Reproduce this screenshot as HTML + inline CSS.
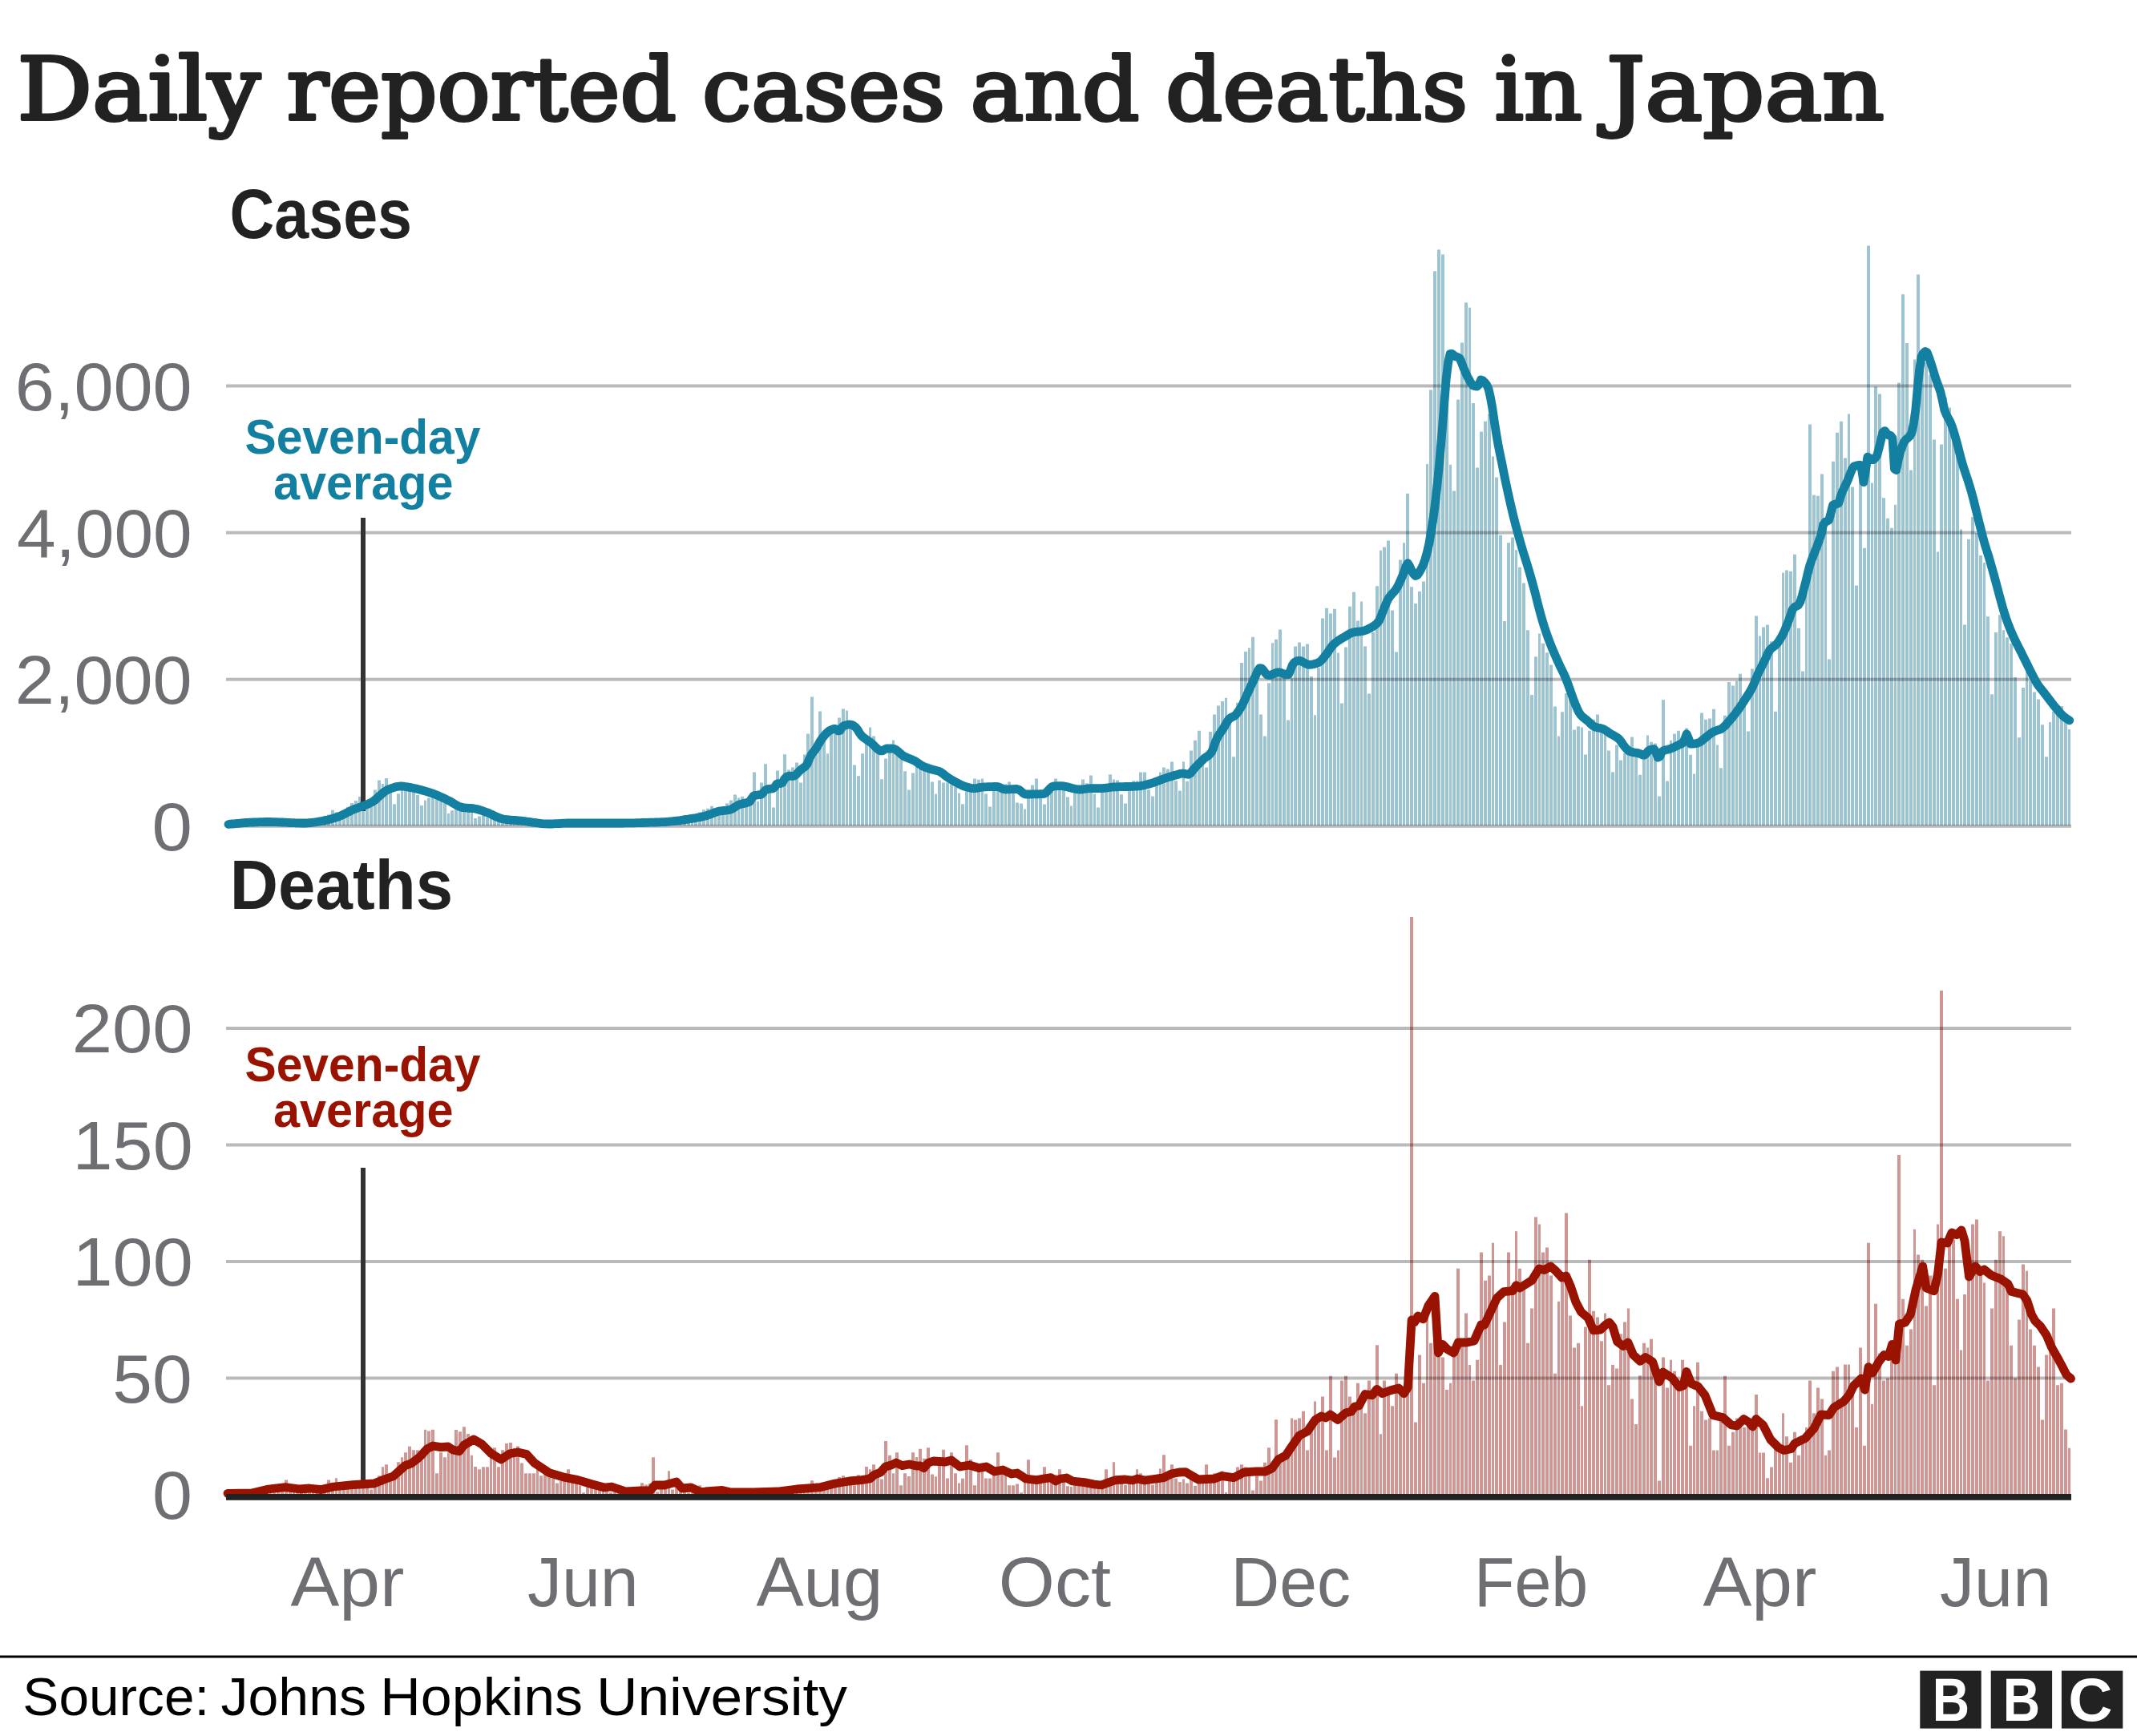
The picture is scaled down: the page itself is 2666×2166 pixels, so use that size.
<!DOCTYPE html>
<html lang="en"><head><meta charset="utf-8"><title>Daily reported cases and deaths in Japan</title>
<style>html,body{margin:0;padding:0;background:#fff}svg{display:block}</style></head>
<body>
<svg width="2666" height="2166" viewBox="0 0 2666 2166">
<rect width="2666" height="2166" fill="#fff"/>
<path d="M282 1030.0V1027.8H286V1030.0ZM287 1030.0V1028.6H291V1030.0ZM292 1030.0V1027.7H296V1030.0ZM297 1030.0V1026.6H301V1030.0ZM302 1030.0V1026.1H306V1030.0ZM307 1030.0V1025.6H310V1030.0ZM311 1030.0V1024.6H315V1030.0ZM316 1030.0V1025.7H320V1030.0ZM321 1030.0V1027.4H325V1030.0ZM326 1030.0V1026.5H330V1030.0ZM331 1030.0V1025.5H335V1030.0ZM336 1030.0V1025.3H339V1030.0ZM340 1030.0V1026.0H344V1030.0ZM345 1030.0V1025.2H349V1030.0ZM350 1030.0V1026.6H354V1030.0ZM355 1030.0V1028.2H359V1030.0ZM360 1030.0V1027.8H364V1030.0ZM365 1030.0V1027.1H368V1030.0ZM369 1030.0V1025.9H373V1030.0ZM374 1030.0V1025.0H378V1030.0ZM379 1030.0V1023.8H383V1030.0ZM384 1030.0V1024.7H388V1030.0ZM389 1030.0V1026.3H392V1030.0ZM393 1030.0V1024.0H397V1030.0ZM398 1030.0V1020.2H402V1030.0ZM403 1030.0V1017.7H407V1030.0ZM408 1030.0V1016.4H412V1030.0ZM413 1030.0V1010.7H417V1030.0ZM418 1030.0V1013.3H421V1030.0ZM422 1030.0V1017.7H426V1030.0ZM427 1030.0V1013.2H431V1030.0ZM432 1030.0V1006.8H436V1030.0ZM437 1030.0V1001.9H441V1030.0ZM442 1030.0V999.0H446V1030.0ZM447 1030.0V994.0H450V1030.0ZM451 1030.0V998.3H455V1030.0ZM456 1030.0V1008.7H460V1030.0ZM461 1030.0V998.8H465V1030.0ZM466 1030.0V985.5H470V1030.0ZM471 1030.0V973.4H475V1030.0ZM476 1030.0V978.1H479V1030.0ZM480 1030.0V971.1H484V1030.0ZM485 1030.0V981.5H489V1030.0ZM490 1030.0V1003.2H494V1030.0ZM495 1030.0V990.2H499V1030.0ZM500 1030.0V976.6H503V1030.0ZM504 1030.0V984.0H508V1030.0ZM509 1030.0V979.6H513V1030.0ZM514 1030.0V978.9H518V1030.0ZM519 1030.0V992.0H523V1030.0ZM524 1030.0V1004.9H528V1030.0ZM529 1030.0V998.6H532V1030.0ZM533 1030.0V995.6H537V1030.0ZM538 1030.0V989.5H542V1030.0ZM543 1030.0V992.1H547V1030.0ZM548 1030.0V993.2H552V1030.0ZM553 1030.0V1002.1H557V1030.0ZM558 1030.0V1015.1H561V1030.0ZM562 1030.0V1011.2H566V1030.0ZM567 1030.0V1008.7H571V1030.0ZM572 1030.0V1004.4H576V1030.0ZM577 1030.0V1006.9H581V1030.0ZM582 1030.0V1007.5H586V1030.0ZM587 1030.0V1014.2H590V1030.0ZM591 1030.0V1020.9H595V1030.0ZM596 1030.0V1018.6H600V1030.0ZM601 1030.0V1015.9H605V1030.0ZM606 1030.0V1019.6H610V1030.0ZM611 1030.0V1021.1H614V1030.0ZM615 1030.0V1020.5H619V1030.0ZM620 1030.0V1022.4H624V1030.0ZM625 1030.0V1026.0H629V1030.0ZM630 1030.0V1025.6H634V1030.0ZM635 1030.0V1024.9H639V1030.0ZM640 1030.0V1023.7H643V1030.0ZM644 1030.0V1024.7H648V1030.0ZM649 1030.0V1025.3H653V1030.0ZM654 1030.0V1026.3H658V1030.0ZM659 1030.0V1028.2H663V1030.0ZM664 1030.0V1028.0H668V1030.0ZM669 1030.0V1027.8H672V1030.0ZM673 1030.0V1027.3H677V1030.0ZM678 1030.0V1026.7H682V1030.0ZM683 1030.0V1026.6H687V1030.0ZM688 1030.0V1027.2H692V1030.0ZM693 1030.0V1028.4H697V1030.0ZM698 1030.0V1027.9H701V1030.0ZM702 1030.0V1026.5H706V1030.0ZM707 1030.0V1026.2H711V1030.0ZM712 1030.0V1026.3H716V1030.0ZM717 1030.0V1026.8H721V1030.0ZM722 1030.0V1027.3H725V1030.0ZM726 1030.0V1028.3H730V1030.0ZM731 1030.0V1028.0H735V1030.0ZM736 1030.0V1026.8H740V1030.0ZM741 1030.0V1026.2H745V1030.0ZM746 1030.0V1026.7H750V1030.0ZM751 1030.0V1025.8H754V1030.0ZM755 1030.0V1026.9H759V1030.0ZM760 1030.0V1028.3H764V1030.0ZM765 1030.0V1027.3H769V1030.0ZM770 1030.0V1026.1H774V1030.0ZM775 1030.0V1025.8H779V1030.0ZM780 1030.0V1025.3H783V1030.0ZM784 1030.0V1025.5H788V1030.0ZM789 1030.0V1026.3H793V1030.0ZM794 1030.0V1027.6H798V1030.0ZM799 1030.0V1026.6H803V1030.0ZM804 1030.0V1025.7H808V1030.0ZM809 1030.0V1024.5H812V1030.0ZM813 1030.0V1024.0H817V1030.0ZM818 1030.0V1023.8H822V1030.0ZM823 1030.0V1025.0H827V1030.0ZM828 1030.0V1026.4H832V1030.0ZM833 1030.0V1024.4H836V1030.0ZM837 1030.0V1022.3H841V1030.0ZM842 1030.0V1019.9H846V1030.0ZM847 1030.0V1020.3H851V1030.0ZM852 1030.0V1017.1H856V1030.0ZM857 1030.0V1020.5H861V1030.0ZM862 1030.0V1023.5H865V1030.0ZM866 1030.0V1018.8H870V1030.0ZM871 1030.0V1013.4H875V1030.0ZM876 1030.0V1010.3H880V1030.0ZM881 1030.0V1008.8H885V1030.0ZM886 1030.0V1005.7H890V1030.0ZM891 1030.0V1011.3H894V1030.0ZM895 1030.0V1017.2H899V1030.0ZM900 1030.0V1010.9H904V1030.0ZM905 1030.0V1002.2H909V1030.0ZM910 1030.0V998.5H914V1030.0ZM915 1030.0V991.5H919V1030.0ZM920 1030.0V995.6H923V1030.0ZM924 1030.0V993.8H928V1030.0ZM929 1030.0V1001.2H933V1030.0ZM934 1030.0V999.7H938V1030.0ZM939 1030.0V963.5H943V1030.0ZM944 1030.0V999.7H947V1030.0ZM948 1030.0V976.5H952V1030.0ZM953 1030.0V953.3H957V1030.0ZM958 1030.0V989.3H962V1030.0ZM963 1030.0V1007.5H967V1030.0ZM968 1030.0V961.6H972V1030.0ZM973 1030.0V981.8H976V1030.0ZM977 1030.0V941.3H981V1030.0ZM982 1030.0V960.5H986V1030.0ZM987 1030.0V957.5H991V1030.0ZM992 1030.0V951.5H996V1030.0ZM997 1030.0V976.5H1001V1030.0ZM1002 1030.0V941.3H1005V1030.0ZM1006 1030.0V915.6H1010V1030.0ZM1011 1030.0V869.5H1015V1030.0ZM1016 1030.0V927.9H1020V1030.0ZM1021 1030.0V887.4H1025V1030.0ZM1026 1030.0V924.9H1030V1030.0ZM1031 1030.0V940.3H1034V1030.0ZM1035 1030.0V914.4H1039V1030.0ZM1040 1030.0V912.9H1044V1030.0ZM1045 1030.0V895.4H1049V1030.0ZM1050 1030.0V884.4H1054V1030.0ZM1055 1030.0V886.4H1058V1030.0ZM1059 1030.0V909.1H1063V1030.0ZM1064 1030.0V954.5H1068V1030.0ZM1069 1030.0V968.3H1073V1030.0ZM1074 1030.0V940.3H1078V1030.0ZM1079 1030.0V927.1H1083V1030.0ZM1084 1030.0V907.4H1087V1030.0ZM1088 1030.0V918.4H1092V1030.0ZM1093 1030.0V933.9H1097V1030.0ZM1098 1030.0V972.3H1102V1030.0ZM1103 1030.0V946.6H1107V1030.0ZM1108 1030.0V938.3H1112V1030.0ZM1113 1030.0V923.4H1116V1030.0ZM1117 1030.0V936.9H1121V1030.0ZM1122 1030.0V945.8H1126V1030.0ZM1127 1030.0V962.3H1131V1030.0ZM1132 1030.0V985.5H1136V1030.0ZM1137 1030.0V964.6H1141V1030.0ZM1142 1030.0V954.8H1145V1030.0ZM1146 1030.0V957.8H1150V1030.0ZM1151 1030.0V954.8H1155V1030.0ZM1156 1030.0V952.6H1160V1030.0ZM1161 1030.0V975.5H1165V1030.0ZM1166 1030.0V990.5H1169V1030.0ZM1170 1030.0V973.5H1174V1030.0ZM1175 1030.0V976.5H1179V1030.0ZM1180 1030.0V976.5H1184V1030.0ZM1185 1030.0V978.8H1189V1030.0ZM1190 1030.0V981.8H1194V1030.0ZM1195 1030.0V989.5H1198V1030.0ZM1199 1030.0V1003.3H1203V1030.0ZM1204 1030.0V983.9H1208V1030.0ZM1209 1030.0V983.2H1213V1030.0ZM1214 1030.0V971.5H1218V1030.0ZM1219 1030.0V972.7H1223V1030.0ZM1224 1030.0V971.5H1227V1030.0ZM1228 1030.0V990.5H1232V1030.0ZM1233 1030.0V1006.4H1237V1030.0ZM1238 1030.0V982.5H1242V1030.0ZM1243 1030.0V982.5H1247V1030.0ZM1248 1030.0V983.2H1252V1030.0ZM1253 1030.0V978.3H1256V1030.0ZM1257 1030.0V975.5H1261V1030.0ZM1262 1030.0V985.3H1266V1030.0ZM1267 1030.0V1001.4H1271V1030.0ZM1272 1030.0V1002.4H1276V1030.0ZM1277 1030.0V1009.4H1280V1030.0ZM1281 1030.0V992.3H1285V1030.0ZM1286 1030.0V979.4H1290V1030.0ZM1291 1030.0V971.5H1295V1030.0ZM1296 1030.0V992.3H1300V1030.0ZM1301 1030.0V1003.5H1305V1030.0ZM1306 1030.0V988.1H1309V1030.0ZM1310 1030.0V983.9H1314V1030.0ZM1315 1030.0V971.5H1319V1030.0ZM1320 1030.0V984.6H1324V1030.0ZM1325 1030.0V984.6H1329V1030.0ZM1330 1030.0V994.4H1334V1030.0ZM1335 1030.0V1005.4H1338V1030.0ZM1339 1030.0V985.3H1343V1030.0ZM1344 1030.0V986.0H1348V1030.0ZM1349 1030.0V972.4H1353V1030.0ZM1354 1030.0V977.3H1358V1030.0ZM1359 1030.0V967.5H1363V1030.0ZM1364 1030.0V990.5H1367V1030.0ZM1368 1030.0V1007.5H1372V1030.0ZM1373 1030.0V983.9H1377V1030.0ZM1378 1030.0V983.2H1382V1030.0ZM1383 1030.0V966.3H1387V1030.0ZM1388 1030.0V972.4H1391V1030.0ZM1392 1030.0V973.4H1396V1030.0ZM1397 1030.0V991.3H1401V1030.0ZM1402 1030.0V1002.4H1406V1030.0ZM1407 1030.0V983.2H1411V1030.0ZM1412 1030.0V974.3H1416V1030.0ZM1417 1030.0V974.3H1420V1030.0ZM1421 1030.0V963.5H1425V1030.0ZM1426 1030.0V963.5H1430V1030.0ZM1431 1030.0V985.3H1435V1030.0ZM1436 1030.0V993.4H1440V1030.0ZM1441 1030.0V976.9H1445V1030.0ZM1446 1030.0V963.5H1449V1030.0ZM1450 1030.0V957.5H1454V1030.0ZM1455 1030.0V959.6H1459V1030.0ZM1460 1030.0V950.5H1464V1030.0ZM1465 1030.0V974.3H1469V1030.0ZM1470 1030.0V986.4H1474V1030.0ZM1475 1030.0V950.3H1478V1030.0ZM1479 1030.0V974.7H1483V1030.0ZM1484 1030.0V936.6H1488V1030.0ZM1489 1030.0V923.7H1493V1030.0ZM1494 1030.0V911.8H1498V1030.0ZM1499 1030.0V940.9H1502V1030.0ZM1503 1030.0V957.4H1507V1030.0ZM1508 1030.0V913.1H1512V1030.0ZM1513 1030.0V891.5H1517V1030.0ZM1518 1030.0V880.6H1522V1030.0ZM1523 1030.0V875.0H1527V1030.0ZM1528 1030.0V870.7H1531V1030.0ZM1532 1030.0V899.1H1536V1030.0ZM1537 1030.0V944.2H1541V1030.0ZM1542 1030.0V876.8H1546V1030.0ZM1547 1030.0V826.9H1551V1030.0ZM1552 1030.0V812.9H1556V1030.0ZM1557 1030.0V808.6H1560V1030.0ZM1561 1030.0V794.7H1565V1030.0ZM1566 1030.0V849.7H1570V1030.0ZM1571 1030.0V891.5H1575V1030.0ZM1576 1030.0V918.6H1580V1030.0ZM1581 1030.0V852.2H1585V1030.0ZM1586 1030.0V802.3H1589V1030.0ZM1590 1030.0V797.7H1594V1030.0ZM1595 1030.0V785.6H1599V1030.0ZM1600 1030.0V839.5H1604V1030.0ZM1605 1030.0V898.6H1609V1030.0ZM1610 1030.0V845.4H1613V1030.0ZM1614 1030.0V806.6H1618V1030.0ZM1619 1030.0V801.5H1623V1030.0ZM1624 1030.0V806.6H1628V1030.0ZM1629 1030.0V803.5H1633V1030.0ZM1634 1030.0V843.9H1638V1030.0ZM1639 1030.0V892.3H1642V1030.0ZM1643 1030.0V833.2H1647V1030.0ZM1648 1030.0V771.6H1652V1030.0ZM1653 1030.0V758.7H1657V1030.0ZM1658 1030.0V765.5H1662V1030.0ZM1663 1030.0V759.7H1667V1030.0ZM1668 1030.0V814.4H1671V1030.0ZM1672 1030.0V877.6H1676V1030.0ZM1677 1030.0V807.4H1681V1030.0ZM1682 1030.0V756.7H1686V1030.0ZM1687 1030.0V738.7H1691V1030.0ZM1692 1030.0V774.4H1696V1030.0ZM1697 1030.0V750.6H1700V1030.0ZM1701 1030.0V806.3H1705V1030.0ZM1706 1030.0V865.4H1710V1030.0ZM1711 1030.0V788.8H1715V1030.0ZM1716 1030.0V731.3H1720V1030.0ZM1721 1030.0V686.7H1724V1030.0ZM1725 1030.0V682.6H1729V1030.0ZM1730 1030.0V674.5H1734V1030.0ZM1735 1030.0V761.5H1739V1030.0ZM1740 1030.0V813.4H1744V1030.0ZM1745 1030.0V698.4H1749V1030.0ZM1750 1030.0V677.3H1753V1030.0ZM1754 1030.0V615.7H1758V1030.0ZM1759 1030.0V732.3H1763V1030.0ZM1764 1030.0V752.9H1768V1030.0ZM1769 1030.0V738.1H1773V1030.0ZM1774 1030.0V725.5H1778V1030.0ZM1779 1030.0V579.0H1782V1030.0ZM1783 1030.0V486.5H1787V1030.0ZM1788 1030.0V338.2H1792V1030.0ZM1793 1030.0V311.5H1797V1030.0ZM1798 1030.0V317.4H1802V1030.0ZM1803 1030.0V474.0H1807V1030.0ZM1808 1030.0V579.7H1811V1030.0ZM1812 1030.0V612.4H1816V1030.0ZM1817 1030.0V498.6H1821V1030.0ZM1822 1030.0V427.6H1826V1030.0ZM1827 1030.0V377.5H1831V1030.0ZM1832 1030.0V383.8H1835V1030.0ZM1836 1030.0V502.9H1840V1030.0ZM1841 1030.0V583.5H1845V1030.0ZM1846 1030.0V538.4H1850V1030.0ZM1851 1030.0V525.7H1855V1030.0ZM1856 1030.0V516.4H1860V1030.0ZM1861 1030.0V569.6H1864V1030.0ZM1865 1030.0V595.4H1869V1030.0ZM1870 1030.0V667.7H1874V1030.0ZM1875 1030.0V774.9H1879V1030.0ZM1880 1030.0V677.3H1884V1030.0ZM1885 1030.0V670.5H1889V1030.0ZM1890 1030.0V686.2H1893V1030.0ZM1894 1030.0V707.7H1898V1030.0ZM1899 1030.0V727.5H1903V1030.0ZM1904 1030.0V786.3H1908V1030.0ZM1909 1030.0V866.9H1913V1030.0ZM1914 1030.0V819.3H1918V1030.0ZM1919 1030.0V790.6H1922V1030.0ZM1923 1030.0V802.8H1927V1030.0ZM1928 1030.0V814.2H1932V1030.0ZM1933 1030.0V829.4H1937V1030.0ZM1938 1030.0V881.4H1942V1030.0ZM1943 1030.0V918.6H1946V1030.0ZM1947 1030.0V888.2H1951V1030.0ZM1952 1030.0V864.9H1956V1030.0ZM1957 1030.0V872.5H1961V1030.0ZM1962 1030.0V910.5H1966V1030.0ZM1967 1030.0V906.2H1971V1030.0ZM1972 1030.0V907.5H1975V1030.0ZM1976 1030.0V941.4H1980V1030.0ZM1981 1030.0V911.8H1985V1030.0ZM1986 1030.0V897.8H1990V1030.0ZM1991 1030.0V891.5H1995V1030.0ZM1996 1030.0V913.1H2000V1030.0ZM2001 1030.0V915.6H2004V1030.0ZM2005 1030.0V936.4H2009V1030.0ZM2010 1030.0V963.2H2014V1030.0ZM2015 1030.0V929.5H2019V1030.0ZM2020 1030.0V948.5H2024V1030.0ZM2025 1030.0V939.7H2029V1030.0ZM2030 1030.0V940.9H2033V1030.0ZM2034 1030.0V919.4H2038V1030.0ZM2039 1030.0V938.4H2043V1030.0ZM2044 1030.0V966.8H2048V1030.0ZM2049 1030.0V939.7H2053V1030.0ZM2054 1030.0V917.4H2057V1030.0ZM2058 1030.0V925.7H2062V1030.0ZM2063 1030.0V927.5H2067V1030.0ZM2068 1030.0V993.4H2072V1030.0ZM2073 1030.0V873.3H2077V1030.0ZM2078 1030.0V974.4H2082V1030.0ZM2083 1030.0V923.7H2086V1030.0ZM2087 1030.0V915.6H2091V1030.0ZM2092 1030.0V911.8H2096V1030.0ZM2097 1030.0V923.2H2101V1030.0ZM2102 1030.0V908.5H2106V1030.0ZM2107 1030.0V941.7H2111V1030.0ZM2112 1030.0V965.5H2115V1030.0ZM2116 1030.0V927.0H2120V1030.0ZM2121 1030.0V889.5H2125V1030.0ZM2126 1030.0V897.8H2130V1030.0ZM2131 1030.0V896.6H2135V1030.0ZM2136 1030.0V884.7H2140V1030.0ZM2141 1030.0V929.5H2144V1030.0ZM2145 1030.0V958.2H2149V1030.0ZM2150 1030.0V892.8H2154V1030.0ZM2155 1030.0V851.0H2159V1030.0ZM2160 1030.0V855.5H2164V1030.0ZM2165 1030.0V849.7H2168V1030.0ZM2169 1030.0V840.8H2173V1030.0ZM2174 1030.0V872.5H2178V1030.0ZM2179 1030.0V912.5H2183V1030.0ZM2184 1030.0V834.5H2188V1030.0ZM2189 1030.0V768.6H2193V1030.0ZM2194 1030.0V793.4H2197V1030.0ZM2198 1030.0V782.5H2202V1030.0ZM2203 1030.0V779.5H2207V1030.0ZM2208 1030.0V800.3H2212V1030.0ZM2213 1030.0V887.7H2217V1030.0ZM2218 1030.0V800.3H2222V1030.0ZM2223 1030.0V714.6H2226V1030.0ZM2227 1030.0V711.5H2231V1030.0ZM2232 1030.0V712.8H2236V1030.0ZM2237 1030.0V691.8H2241V1030.0ZM2242 1030.0V783.8H2246V1030.0ZM2247 1030.0V837.5H2251V1030.0ZM2252 1030.0V736.9H2255V1030.0ZM2256 1030.0V529.5H2260V1030.0ZM2261 1030.0V617.8H2265V1030.0ZM2266 1030.0V618.8H2270V1030.0ZM2271 1030.0V591.6H2275V1030.0ZM2276 1030.0V652.5H2279V1030.0ZM2280 1030.0V822.6H2284V1030.0ZM2285 1030.0V575.7H2289V1030.0ZM2290 1030.0V539.7H2294V1030.0ZM2295 1030.0V525.7H2299V1030.0ZM2300 1030.0V571.4H2304V1030.0ZM2305 1030.0V516.4H2308V1030.0ZM2309 1030.0V607.6H2313V1030.0ZM2314 1030.0V730.5H2318V1030.0ZM2319 1030.0V581.5H2323V1030.0ZM2324 1030.0V683.7H2328V1030.0ZM2329 1030.0V306.5H2333V1030.0ZM2334 1030.0V602.5H2337V1030.0ZM2338 1030.0V482.6H2342V1030.0ZM2343 1030.0V491.5H2347V1030.0ZM2348 1030.0V621.3H2352V1030.0ZM2353 1030.0V646.7H2357V1030.0ZM2358 1030.0V658.8H2362V1030.0ZM2363 1030.0V629.7H2366V1030.0ZM2367 1030.0V477.6H2371V1030.0ZM2372 1030.0V367.3H2376V1030.0ZM2377 1030.0V428.1H2381V1030.0ZM2382 1030.0V586.6H2386V1030.0ZM2387 1030.0V448.4H2390V1030.0ZM2391 1030.0V342.5H2395V1030.0ZM2396 1030.0V447.2H2400V1030.0ZM2401 1030.0V452.2H2405V1030.0ZM2406 1030.0V467.4H2410V1030.0ZM2411 1030.0V548.6H2415V1030.0ZM2416 1030.0V688.5H2419V1030.0ZM2420 1030.0V554.4H2424V1030.0ZM2425 1030.0V495.8H2429V1030.0ZM2430 1030.0V508.5H2434V1030.0ZM2435 1030.0V543.5H2439V1030.0ZM2440 1030.0V568.8H2444V1030.0ZM2445 1030.0V660.6H2448V1030.0ZM2449 1030.0V779.5H2453V1030.0ZM2454 1030.0V672.8H2458V1030.0ZM2459 1030.0V644.9H2463V1030.0ZM2464 1030.0V665.2H2468V1030.0ZM2469 1030.0V693.0H2473V1030.0ZM2474 1030.0V701.9H2477V1030.0ZM2478 1030.0V769.3H2482V1030.0ZM2483 1030.0V866.2H2487V1030.0ZM2488 1030.0V789.1H2492V1030.0ZM2493 1030.0V767.3H2497V1030.0ZM2498 1030.0V786.3H2501V1030.0ZM2502 1030.0V795.2H2506V1030.0ZM2507 1030.0V802.8H2511V1030.0ZM2512 1030.0V845.1H2516V1030.0ZM2517 1030.0V920.2H2521V1030.0ZM2522 1030.0V858.0H2526V1030.0ZM2527 1030.0V838.3H2530V1030.0ZM2531 1030.0V849.7H2535V1030.0ZM2536 1030.0V863.6H2540V1030.0ZM2541 1030.0V872.5H2545V1030.0ZM2546 1030.0V904.2H2550V1030.0ZM2551 1030.0V944.2H2555V1030.0ZM2556 1030.0V901.1H2559V1030.0ZM2560 1030.0V887.7H2564V1030.0ZM2565 1030.0V881.4H2569V1030.0ZM2570 1030.0V880.9H2574V1030.0ZM2575 1030.0V895.3H2579V1030.0ZM2580 1030.0V910.0H2583V1030.0Z" fill="#9dc4d3"/>
<path d="M282 1865.0V1863.9H286V1865.0ZM287 1865.0V1864.0H291V1865.0ZM292 1865.0V1863.0H296V1865.0ZM297 1865.0V1862.6H301V1865.0ZM302 1865.0V1861.5H306V1865.0ZM307 1865.0V1860.3H310V1865.0ZM311 1865.0V1859.9H315V1865.0ZM316 1865.0V1860.0H320V1865.0ZM321 1865.0V1860.3H325V1865.0ZM326 1865.0V1856.8H330V1865.0ZM331 1865.0V1855.4H335V1865.0ZM336 1865.0V1853.2H339V1865.0ZM340 1865.0V1857.2H344V1865.0ZM345 1865.0V1856.9H349V1865.0ZM350 1865.0V1859.2H354V1865.0ZM355 1865.0V1846.6H359V1865.0ZM360 1865.0V1857.3H364V1865.0ZM365 1865.0V1855.6H368V1865.0ZM369 1865.0V1856.7H373V1865.0ZM374 1865.0V1856.6H378V1865.0ZM379 1865.0V1858.0H383V1865.0ZM384 1865.0V1860.1H388V1865.0ZM389 1865.0V1860.2H392V1865.0ZM393 1865.0V1856.1H397V1865.0ZM398 1865.0V1854.2H402V1865.0ZM403 1865.0V1852.7H407V1865.0ZM408 1865.0V1846.6H412V1865.0ZM413 1865.0V1852.4H417V1865.0ZM418 1865.0V1844.3H421V1865.0ZM422 1865.0V1858.0H426V1865.0ZM427 1865.0V1853.5H431V1865.0ZM432 1865.0V1849.8H436V1865.0ZM437 1865.0V1850.3H441V1865.0ZM442 1865.0V1851.2H446V1865.0ZM447 1865.0V1850.8H450V1865.0ZM451 1865.0V1855.1H455V1865.0ZM456 1865.0V1854.7H460V1865.0ZM461 1865.0V1858.6H465V1865.0ZM466 1865.0V1846.6H470V1865.0ZM471 1865.0V1841.3H475V1865.0ZM476 1865.0V1830.2H479V1865.0ZM480 1865.0V1827.2H484V1865.0ZM485 1865.0V1839.2H489V1865.0ZM490 1865.0V1839.7H494V1865.0ZM495 1865.0V1824.2H499V1865.0ZM500 1865.0V1818.2H503V1865.0ZM504 1865.0V1812.2H508V1865.0ZM509 1865.0V1804.7H513V1865.0ZM514 1865.0V1809.2H518V1865.0ZM519 1865.0V1809.2H523V1865.0ZM524 1865.0V1822.4H528V1865.0ZM529 1865.0V1783.8H532V1865.0ZM533 1865.0V1785.6H537V1865.0ZM538 1865.0V1783.8H542V1865.0ZM543 1865.0V1838.3H547V1865.0ZM548 1865.0V1812.2H552V1865.0ZM553 1865.0V1818.2H557V1865.0ZM558 1865.0V1812.2H561V1865.0ZM562 1865.0V1813.7H566V1865.0ZM567 1865.0V1784.1H571V1865.0ZM572 1865.0V1786.2H576V1865.0ZM577 1865.0V1780.2H581V1865.0ZM582 1865.0V1789.1H586V1865.0ZM587 1865.0V1815.7H590V1865.0ZM591 1865.0V1829.9H595V1865.0ZM596 1865.0V1833.2H600V1865.0ZM601 1865.0V1830.2H605V1865.0ZM606 1865.0V1830.2H610V1865.0ZM611 1865.0V1809.1H614V1865.0ZM615 1865.0V1806.2H619V1865.0ZM620 1865.0V1830.2H624V1865.0ZM625 1865.0V1809.2H629V1865.0ZM630 1865.0V1801.1H634V1865.0ZM635 1865.0V1800.1H639V1865.0ZM640 1865.0V1806.8H643V1865.0ZM644 1865.0V1804.4H648V1865.0ZM649 1865.0V1825.5H653V1865.0ZM654 1865.0V1838.3H658V1865.0ZM659 1865.0V1838.3H663V1865.0ZM664 1865.0V1838.3H668V1865.0ZM669 1865.0V1829.1H672V1865.0ZM673 1865.0V1841.3H677V1865.0ZM678 1865.0V1836.8H682V1865.0ZM683 1865.0V1842.6H687V1865.0ZM688 1865.0V1844.6H692V1865.0ZM693 1865.0V1850.5H697V1865.0ZM698 1865.0V1848.1H701V1865.0ZM702 1865.0V1838.5H706V1865.0ZM707 1865.0V1833.2H711V1865.0ZM712 1865.0V1847.4H716V1865.0ZM717 1865.0V1846.2H721V1865.0ZM722 1865.0V1853.2H725V1865.0ZM726 1865.0V1862.2H730V1865.0ZM731 1865.0V1854.5H735V1865.0ZM736 1865.0V1853.6H740V1865.0ZM741 1865.0V1855.7H745V1865.0ZM746 1865.0V1851.6H750V1865.0ZM751 1865.0V1854.8H754V1865.0ZM755 1865.0V1860.6H759V1865.0ZM760 1865.0V1862.2H764V1865.0ZM765 1865.0V1861.5H769V1865.0ZM770 1865.0V1859.1H774V1865.0ZM775 1865.0V1859.8H779V1865.0ZM780 1865.0V1859.5H783V1865.0ZM784 1865.0V1860.0H788V1865.0ZM789 1865.0V1861.5H793V1865.0ZM794 1865.0V1862.3H798V1865.0ZM799 1865.0V1850.2H803V1865.0ZM804 1865.0V1852.5H808V1865.0ZM809 1865.0V1850.7H812V1865.0ZM813 1865.0V1818.2H817V1865.0ZM818 1865.0V1861.6H822V1865.0ZM823 1865.0V1854.6H827V1865.0ZM828 1865.0V1856.1H832V1865.0ZM833 1865.0V1835.3H836V1865.0ZM837 1865.0V1858.6H841V1865.0ZM842 1865.0V1852.9H846V1865.0ZM847 1865.0V1854.7H851V1865.0ZM852 1865.0V1858.8H856V1865.0ZM857 1865.0V1862.4H861V1865.0ZM862 1865.0V1862.8H865V1865.0ZM866 1865.0V1861.0H870V1865.0ZM871 1865.0V1853.2H875V1865.0ZM876 1865.0V1858.9H880V1865.0ZM881 1865.0V1858.7H885V1865.0ZM886 1865.0V1859.2H890V1865.0ZM891 1865.0V1861.4H894V1865.0ZM895 1865.0V1863.1H899V1865.0ZM900 1865.0V1861.5H904V1865.0ZM905 1865.0V1859.9H909V1865.0ZM910 1865.0V1861.9H914V1865.0ZM915 1865.0V1861.6H919V1865.0ZM920 1865.0V1861.8H923V1865.0ZM924 1865.0V1862.8H928V1865.0ZM929 1865.0V1863.0H933V1865.0ZM934 1865.0V1861.6H938V1865.0ZM939 1865.0V1860.6H943V1865.0ZM944 1865.0V1860.6H947V1865.0ZM948 1865.0V1860.2H952V1865.0ZM953 1865.0V1861.6H957V1865.0ZM958 1865.0V1862.0H962V1865.0ZM963 1865.0V1861.8H967V1865.0ZM968 1865.0V1859.6H972V1865.0ZM973 1865.0V1858.0H976V1865.0ZM977 1865.0V1856.1H981V1865.0ZM982 1865.0V1857.1H986V1865.0ZM987 1865.0V1856.4H991V1865.0ZM992 1865.0V1858.7H996V1865.0ZM997 1865.0V1859.6H1001V1865.0ZM1002 1865.0V1855.2H1005V1865.0ZM1006 1865.0V1853.8H1010V1865.0ZM1011 1865.0V1847.2H1015V1865.0ZM1016 1865.0V1851.7H1020V1865.0ZM1021 1865.0V1851.0H1025V1865.0ZM1026 1865.0V1855.4H1030V1865.0ZM1031 1865.0V1855.9H1034V1865.0ZM1035 1865.0V1847.3H1039V1865.0ZM1040 1865.0V1846.6H1044V1865.0ZM1045 1865.0V1843.1H1049V1865.0ZM1050 1865.0V1841.3H1054V1865.0ZM1055 1865.0V1847.3H1058V1865.0ZM1059 1865.0V1851.4H1063V1865.0ZM1064 1865.0V1853.2H1068V1865.0ZM1069 1865.0V1840.2H1073V1865.0ZM1074 1865.0V1841.3H1078V1865.0ZM1079 1865.0V1830.1H1083V1865.0ZM1084 1865.0V1833.3H1087V1865.0ZM1088 1865.0V1827.2H1092V1865.0ZM1093 1865.0V1838.9H1097V1865.0ZM1098 1865.0V1845.5H1102V1865.0ZM1103 1865.0V1798.1H1107V1865.0ZM1108 1865.0V1815.7H1112V1865.0ZM1113 1865.0V1838.3H1116V1865.0ZM1117 1865.0V1812.2H1121V1865.0ZM1122 1865.0V1853.2H1126V1865.0ZM1127 1865.0V1838.3H1131V1865.0ZM1132 1865.0V1842.0H1136V1865.0ZM1137 1865.0V1812.2H1141V1865.0ZM1142 1865.0V1817.9H1145V1865.0ZM1146 1865.0V1807.8H1150V1865.0ZM1151 1865.0V1819.7H1155V1865.0ZM1156 1865.0V1806.2H1160V1865.0ZM1161 1865.0V1839.4H1165V1865.0ZM1166 1865.0V1842.3H1169V1865.0ZM1170 1865.0V1818.4H1174V1865.0ZM1175 1865.0V1808.8H1179V1865.0ZM1180 1865.0V1844.6H1184V1865.0ZM1185 1865.0V1812.2H1189V1865.0ZM1190 1865.0V1838.3H1194V1865.0ZM1195 1865.0V1850.5H1198V1865.0ZM1199 1865.0V1844.8H1203V1865.0ZM1204 1865.0V1803.2H1208V1865.0ZM1209 1865.0V1821.0H1213V1865.0ZM1214 1865.0V1853.2H1218V1865.0ZM1219 1865.0V1832.3H1223V1865.0ZM1224 1865.0V1833.4H1227V1865.0ZM1228 1865.0V1844.6H1232V1865.0ZM1233 1865.0V1844.6H1237V1865.0ZM1238 1865.0V1834.7H1242V1865.0ZM1243 1865.0V1812.2H1247V1865.0ZM1248 1865.0V1831.9H1252V1865.0ZM1253 1865.0V1834.3H1256V1865.0ZM1257 1865.0V1853.2H1261V1865.0ZM1262 1865.0V1853.2H1266V1865.0ZM1267 1865.0V1851.6H1271V1865.0ZM1272 1865.0V1862.2H1276V1865.0ZM1277 1865.0V1843.4H1280V1865.0ZM1281 1865.0V1821.2H1285V1865.0ZM1286 1865.0V1843.6H1290V1865.0ZM1291 1865.0V1843.1H1295V1865.0ZM1296 1865.0V1849.2H1300V1865.0ZM1301 1865.0V1830.2H1305V1865.0ZM1306 1865.0V1845.3H1309V1865.0ZM1310 1865.0V1840.2H1314V1865.0ZM1315 1865.0V1840.0H1319V1865.0ZM1320 1865.0V1833.2H1324V1865.0ZM1325 1865.0V1847.7H1329V1865.0ZM1330 1865.0V1854.2H1334V1865.0ZM1335 1865.0V1855.0H1338V1865.0ZM1339 1865.0V1851.2H1343V1865.0ZM1344 1865.0V1851.4H1348V1865.0ZM1349 1865.0V1849.4H1353V1865.0ZM1354 1865.0V1850.3H1358V1865.0ZM1359 1865.0V1852.8H1363V1865.0ZM1364 1865.0V1853.9H1367V1865.0ZM1368 1865.0V1855.4H1372V1865.0ZM1373 1865.0V1847.7H1377V1865.0ZM1378 1865.0V1833.2H1382V1865.0ZM1383 1865.0V1846.0H1387V1865.0ZM1388 1865.0V1824.2H1391V1865.0ZM1392 1865.0V1845.8H1396V1865.0ZM1397 1865.0V1850.8H1401V1865.0ZM1402 1865.0V1852.9H1406V1865.0ZM1407 1865.0V1844.4H1411V1865.0ZM1412 1865.0V1844.4H1416V1865.0ZM1417 1865.0V1833.2H1420V1865.0ZM1421 1865.0V1838.3H1425V1865.0ZM1426 1865.0V1845.7H1430V1865.0ZM1431 1865.0V1846.6H1435V1865.0ZM1436 1865.0V1852.5H1440V1865.0ZM1441 1865.0V1839.7H1445V1865.0ZM1446 1865.0V1832.5H1449V1865.0ZM1450 1865.0V1815.2H1454V1865.0ZM1455 1865.0V1836.8H1459V1865.0ZM1460 1865.0V1827.2H1464V1865.0ZM1465 1865.0V1844.4H1469V1865.0ZM1470 1865.0V1848.9H1474V1865.0ZM1475 1865.0V1845.6H1478V1865.0ZM1479 1865.0V1850.6H1483V1865.0ZM1484 1865.0V1841.4H1488V1865.0ZM1489 1865.0V1853.7H1493V1865.0ZM1494 1865.0V1848.1H1498V1865.0ZM1499 1865.0V1850.1H1502V1865.0ZM1503 1865.0V1827.3H1507V1865.0ZM1508 1865.0V1845.6H1512V1865.0ZM1513 1865.0V1838.3H1517V1865.0ZM1518 1865.0V1843.0H1522V1865.0ZM1523 1865.0V1835.4H1527V1865.0ZM1528 1865.0V1862.1H1531V1865.0ZM1532 1865.0V1838.0H1536V1865.0ZM1537 1865.0V1845.6H1541V1865.0ZM1542 1865.0V1830.4H1546V1865.0ZM1547 1865.0V1827.3H1551V1865.0ZM1552 1865.0V1830.4H1556V1865.0ZM1557 1865.0V1835.4H1560V1865.0ZM1561 1865.0V1859.5H1565V1865.0ZM1566 1865.0V1841.3H1570V1865.0ZM1571 1865.0V1847.6H1575V1865.0ZM1576 1865.0V1824.8H1580V1865.0ZM1581 1865.0V1806.3H1585V1865.0ZM1586 1865.0V1832.9H1589V1865.0ZM1590 1865.0V1771.3H1594V1865.0ZM1595 1865.0V1817.7H1599V1865.0ZM1600 1865.0V1815.2H1604V1865.0ZM1605 1865.0V1805.0H1609V1865.0ZM1610 1865.0V1769.5H1613V1865.0ZM1614 1865.0V1771.6H1618V1865.0ZM1619 1865.0V1769.5H1623V1865.0ZM1624 1865.0V1760.7H1628V1865.0ZM1629 1865.0V1809.6H1633V1865.0ZM1634 1865.0V1779.7H1638V1865.0ZM1639 1865.0V1748.5H1642V1865.0ZM1643 1865.0V1767.0H1647V1865.0ZM1648 1865.0V1742.4H1652V1865.0ZM1653 1865.0V1809.6H1657V1865.0ZM1658 1865.0V1716.8H1662V1865.0ZM1663 1865.0V1818.5H1667V1865.0ZM1668 1865.0V1809.6H1671V1865.0ZM1672 1865.0V1722.6H1676V1865.0ZM1677 1865.0V1716.8H1681V1865.0ZM1682 1865.0V1742.4H1686V1865.0ZM1687 1865.0V1751.8H1691V1865.0ZM1692 1865.0V1725.7H1696V1865.0ZM1697 1865.0V1744.2H1700V1865.0ZM1701 1865.0V1763.2H1705V1865.0ZM1706 1865.0V1722.6H1710V1865.0ZM1711 1865.0V1736.6H1715V1865.0ZM1716 1865.0V1678.3H1720V1865.0ZM1721 1865.0V1789.3H1724V1865.0ZM1725 1865.0V1722.6H1729V1865.0ZM1730 1865.0V1736.6H1734V1865.0ZM1735 1865.0V1754.3H1739V1865.0ZM1740 1865.0V1713.8H1744V1865.0ZM1745 1865.0V1731.5H1749V1865.0ZM1750 1865.0V1739.1H1753V1865.0ZM1754 1865.0V1736.6H1758V1865.0ZM1759 1865.0V1144.0H1763V1865.0ZM1764 1865.0V1774.6H1768V1865.0ZM1769 1865.0V1690.4H1773V1865.0ZM1774 1865.0V1725.7H1778V1865.0ZM1779 1865.0V1642.8H1782V1865.0ZM1783 1865.0V1675.7H1787V1865.0ZM1788 1865.0V1655.5H1792V1865.0ZM1793 1865.0V1691.0H1797V1865.0ZM1798 1865.0V1693.5H1802V1865.0ZM1803 1865.0V1734.0H1807V1865.0ZM1808 1865.0V1725.7H1811V1865.0ZM1812 1865.0V1683.3H1816V1865.0ZM1817 1865.0V1582.7H1821V1865.0ZM1822 1865.0V1675.7H1826V1865.0ZM1827 1865.0V1638.5H1831V1865.0ZM1832 1865.0V1702.9H1835V1865.0ZM1836 1865.0V1722.6H1840V1865.0ZM1841 1865.0V1696.8H1845V1865.0ZM1846 1865.0V1562.4H1850V1865.0ZM1851 1865.0V1597.7H1855V1865.0ZM1856 1865.0V1591.6H1860V1865.0ZM1861 1865.0V1550.8H1864V1865.0ZM1865 1865.0V1622.5H1869V1865.0ZM1870 1865.0V1702.9H1874V1865.0ZM1875 1865.0V1649.6H1879V1865.0ZM1880 1865.0V1562.4H1884V1865.0ZM1885 1865.0V1609.8H1889V1865.0ZM1890 1865.0V1536.3H1893V1865.0ZM1894 1865.0V1582.7H1898V1865.0ZM1899 1865.0V1604.8H1903V1865.0ZM1904 1865.0V1675.7H1908V1865.0ZM1909 1865.0V1632.6H1913V1865.0ZM1914 1865.0V1518.6H1918V1865.0ZM1919 1865.0V1527.5H1922V1865.0ZM1923 1865.0V1562.4H1927V1865.0ZM1928 1865.0V1556.6H1932V1865.0ZM1933 1865.0V1591.6H1937V1865.0ZM1938 1865.0V1713.8H1942V1865.0ZM1943 1865.0V1623.8H1946V1865.0ZM1947 1865.0V1592.1H1951V1865.0ZM1952 1865.0V1513.5H1956V1865.0ZM1957 1865.0V1641.5H1961V1865.0ZM1962 1865.0V1681.6H1966V1865.0ZM1967 1865.0V1675.7H1971V1865.0ZM1972 1865.0V1754.3H1975V1865.0ZM1976 1865.0V1655.5H1980V1865.0ZM1981 1865.0V1571.8H1985V1865.0ZM1986 1865.0V1635.7H1990V1865.0ZM1991 1865.0V1643.5H1995V1865.0ZM1996 1865.0V1673.2H2000V1865.0ZM2001 1865.0V1638.5H2004V1865.0ZM2005 1865.0V1728.2H2009V1865.0ZM2010 1865.0V1702.9H2014V1865.0ZM2015 1865.0V1707.4H2019V1865.0ZM2020 1865.0V1664.3H2024V1865.0ZM2025 1865.0V1649.6H2029V1865.0ZM2030 1865.0V1632.6H2033V1865.0ZM2034 1865.0V1745.4H2038V1865.0ZM2039 1865.0V1777.1H2043V1865.0ZM2044 1865.0V1716.3H2048V1865.0ZM2049 1865.0V1675.7H2053V1865.0ZM2054 1865.0V1681.6H2057V1865.0ZM2058 1865.0V1670.7H2062V1865.0ZM2063 1865.0V1718.8H2067V1865.0ZM2068 1865.0V1847.6H2072V1865.0ZM2073 1865.0V1693.5H2077V1865.0ZM2078 1865.0V1731.5H2082V1865.0ZM2083 1865.0V1696.8H2086V1865.0ZM2087 1865.0V1710.7H2091V1865.0ZM2092 1865.0V1726.4H2096V1865.0ZM2097 1865.0V1696.8H2101V1865.0ZM2102 1865.0V1713.8H2106V1865.0ZM2107 1865.0V1803.8H2111V1865.0ZM2112 1865.0V1754.3H2115V1865.0ZM2116 1865.0V1699.8H2120V1865.0ZM2121 1865.0V1760.7H2125V1865.0ZM2126 1865.0V1771.6H2130V1865.0ZM2131 1865.0V1769.5H2135V1865.0ZM2136 1865.0V1809.6H2140V1865.0ZM2141 1865.0V1809.6H2144V1865.0ZM2145 1865.0V1767.0H2149V1865.0ZM2150 1865.0V1716.8H2154V1865.0ZM2155 1865.0V1803.8H2159V1865.0ZM2160 1865.0V1786.8H2164V1865.0ZM2165 1865.0V1769.5H2168V1865.0ZM2169 1865.0V1774.6H2173V1865.0ZM2174 1865.0V1780.9H2178V1865.0ZM2179 1865.0V1774.6H2183V1865.0ZM2184 1865.0V1777.1H2188V1865.0ZM2189 1865.0V1739.9H2193V1865.0ZM2194 1865.0V1812.6H2197V1865.0ZM2198 1865.0V1812.6H2202V1865.0ZM2203 1865.0V1844.3H2207V1865.0ZM2208 1865.0V1830.4H2212V1865.0ZM2213 1865.0V1805.0H2217V1865.0ZM2218 1865.0V1805.0H2222V1865.0ZM2223 1865.0V1763.2H2226V1865.0ZM2227 1865.0V1792.3H2231V1865.0ZM2232 1865.0V1824.8H2236V1865.0ZM2237 1865.0V1786.8H2241V1865.0ZM2242 1865.0V1815.7H2246V1865.0ZM2247 1865.0V1799.9H2251V1865.0ZM2252 1865.0V1780.9H2255V1865.0ZM2256 1865.0V1722.6H2260V1865.0ZM2261 1865.0V1763.2H2265V1865.0ZM2266 1865.0V1731.5H2270V1865.0ZM2271 1865.0V1745.4H2275V1865.0ZM2276 1865.0V1815.7H2279V1865.0ZM2280 1865.0V1809.6H2284V1865.0ZM2285 1865.0V1710.7H2289V1865.0ZM2290 1865.0V1705.4H2294V1865.0ZM2295 1865.0V1749.3H2299V1865.0ZM2300 1865.0V1702.4H2304V1865.0ZM2305 1865.0V1702.4H2308V1865.0ZM2309 1865.0V1731.5H2313V1865.0ZM2314 1865.0V1780.9H2318V1865.0ZM2319 1865.0V1681.6H2323V1865.0ZM2324 1865.0V1803.8H2328V1865.0ZM2329 1865.0V1550.8H2333V1865.0ZM2334 1865.0V1751.8H2337V1865.0ZM2338 1865.0V1626.8H2342V1865.0ZM2343 1865.0V1688.4H2347V1865.0ZM2348 1865.0V1722.6H2352V1865.0ZM2353 1865.0V1719.6H2357V1865.0ZM2358 1865.0V1675.7H2362V1865.0ZM2363 1865.0V1696.0H2366V1865.0ZM2367 1865.0V1440.9H2371V1865.0ZM2372 1865.0V1620.7H2376V1865.0ZM2377 1865.0V1678.8H2381V1865.0ZM2382 1865.0V1658.5H2386V1865.0ZM2387 1865.0V1533.8H2390V1865.0ZM2391 1865.0V1565.5H2395V1865.0ZM2396 1865.0V1571.8H2400V1865.0ZM2401 1865.0V1629.6H2405V1865.0ZM2406 1865.0V1591.6H2410V1865.0ZM2411 1865.0V1728.2H2415V1865.0ZM2416 1865.0V1527.5H2419V1865.0ZM2420 1865.0V1236.0H2424V1865.0ZM2425 1865.0V1582.7H2429V1865.0ZM2430 1865.0V1554.1H2434V1865.0ZM2435 1865.0V1546.5H2439V1865.0ZM2440 1865.0V1620.7H2444V1865.0ZM2445 1865.0V1684.6H2448V1865.0ZM2449 1865.0V1614.9H2453V1865.0ZM2454 1865.0V1592.1H2458V1865.0ZM2459 1865.0V1527.5H2463V1865.0ZM2464 1865.0V1521.6H2468V1865.0ZM2469 1865.0V1585.8H2473V1865.0ZM2474 1865.0V1600.5H2477V1865.0ZM2478 1865.0V1722.6H2482V1865.0ZM2483 1865.0V1632.6H2487V1865.0ZM2488 1865.0V1571.8H2492V1865.0ZM2493 1865.0V1536.3H2497V1865.0ZM2498 1865.0V1542.2H2501V1865.0ZM2502 1865.0V1602.2H2506V1865.0ZM2507 1865.0V1678.8H2511V1865.0ZM2512 1865.0V1719.6H2516V1865.0ZM2517 1865.0V1646.6H2521V1865.0ZM2522 1865.0V1577.6H2526V1865.0ZM2527 1865.0V1585.8H2530V1865.0ZM2531 1865.0V1658.5H2535V1865.0ZM2536 1865.0V1678.8H2540V1865.0ZM2541 1865.0V1705.4H2545V1865.0ZM2546 1865.0V1771.6H2550V1865.0ZM2551 1865.0V1690.4H2555V1865.0ZM2556 1865.0V1675.7H2559V1865.0ZM2560 1865.0V1632.6H2564V1865.0ZM2565 1865.0V1728.2H2569V1865.0ZM2570 1865.0V1725.7H2574V1865.0ZM2575 1865.0V1783.5H2579V1865.0ZM2580 1865.0V1806.8H2583V1865.0Z" fill="#d09694"/>
<rect x="282" y="479.5" width="2302" height="4" fill="#000" fill-opacity="0.27"/>
<rect x="282" y="662.6" width="2302" height="4" fill="#000" fill-opacity="0.27"/>
<rect x="282" y="845.7" width="2302" height="4" fill="#000" fill-opacity="0.27"/>
<rect x="282" y="1028.8" width="2302" height="4" fill="#000" fill-opacity="0.27"/>
<rect x="282" y="1281.0" width="2302" height="4" fill="#000" fill-opacity="0.27"/>
<rect x="282" y="1426.5" width="2302" height="4" fill="#000" fill-opacity="0.27"/>
<rect x="282" y="1572.0" width="2302" height="4" fill="#000" fill-opacity="0.27"/>
<rect x="282" y="1717.5" width="2302" height="4" fill="#000" fill-opacity="0.27"/>
<rect x="450" y="646" width="6" height="366" fill="#333"/>
<rect x="450" y="1457" width="6" height="393.5" fill="#333"/>
<path d="M285.0 1028.5L287.4 1028.2L289.8 1028.0L292.2 1027.8L294.6 1027.5L297.0 1027.3L299.4 1027.1L301.8 1026.9L304.2 1026.7L306.6 1026.5L309.0 1026.4L311.4 1026.2L313.8 1026.1L316.2 1026.0L318.6 1025.9L321.0 1025.8L323.4 1025.7L325.8 1025.6L328.2 1025.6L330.6 1025.5L333.0 1025.5L335.4 1025.5L337.8 1025.5L340.2 1025.6L342.6 1025.6L345.0 1025.7L347.4 1025.8L349.8 1025.9L352.2 1026.0L354.6 1026.1L357.0 1026.2L359.4 1026.3L361.8 1026.5L364.2 1026.6L366.6 1026.7L369.0 1026.8L371.4 1026.9L373.8 1026.9L376.2 1027.0L378.6 1027.0L381.0 1027.0L383.4 1026.9L385.8 1026.7L388.2 1026.5L390.6 1026.2L393.0 1025.9L395.4 1025.5L397.8 1025.1L400.2 1024.7L402.6 1024.2L405.0 1023.8L407.4 1023.3L409.8 1022.8L412.2 1022.1L414.6 1021.4L417.0 1020.7L419.4 1019.9L421.8 1019.1L424.2 1018.2L426.6 1017.1L429.0 1016.0L431.4 1014.7L433.8 1013.5L436.2 1012.3L438.6 1011.1L441.0 1010.1L443.4 1009.1L445.8 1008.2L448.2 1007.3L450.6 1006.5L453.0 1005.6L455.4 1004.7L457.8 1003.7L460.2 1002.7L462.6 1001.5L465.0 1000.2L467.4 998.5L469.8 996.5L472.2 994.3L474.6 992.1L477.0 990.0L479.4 988.0L481.8 986.4L484.2 985.1L486.6 984.2L489.0 983.3L491.4 982.5L493.8 981.8L496.2 981.3L498.6 981.0L501.0 981.0L503.4 981.2L505.8 981.5L508.2 981.9L510.6 982.3L513.0 982.7L515.4 983.2L517.8 983.7L520.2 984.3L522.6 984.9L525.0 985.5L527.4 986.2L529.8 986.9L532.2 987.6L534.6 988.3L537.0 989.1L539.4 989.9L541.8 990.8L544.2 991.7L546.6 992.7L549.0 993.8L551.4 994.9L553.8 996.0L556.2 997.2L558.6 998.3L561.0 999.5L563.4 1000.9L565.8 1002.4L568.2 1003.8L570.6 1005.2L573.0 1006.3L575.4 1007.1L577.8 1007.6L580.2 1007.9L582.6 1008.1L585.0 1008.3L587.4 1008.5L589.8 1008.7L592.2 1009.0L594.6 1009.5L597.0 1010.1L599.4 1010.9L601.8 1011.7L604.2 1012.5L606.6 1013.4L609.0 1014.2L611.4 1015.3L613.8 1016.4L616.2 1017.6L618.6 1018.8L621.0 1019.8L623.4 1020.8L625.8 1021.5L628.2 1022.0L630.6 1022.4L633.0 1022.6L635.4 1022.9L637.8 1023.1L640.2 1023.3L642.6 1023.4L645.0 1023.6L647.4 1023.8L649.8 1024.1L652.2 1024.4L654.6 1024.7L657.0 1025.0L659.4 1025.3L661.8 1025.7L664.2 1026.1L666.6 1026.4L669.0 1026.7L671.4 1027.0L673.8 1027.3L676.2 1027.6L678.6 1027.8L681.0 1027.9L683.4 1028.0L685.8 1028.0L688.2 1028.0L690.6 1027.9L693.0 1027.7L695.4 1027.6L697.8 1027.5L700.2 1027.3L702.6 1027.2L705.0 1027.1L707.4 1027.0L709.8 1027.0L712.2 1027.0L714.6 1027.0L717.0 1027.0L719.4 1027.0L721.8 1027.0L724.2 1027.0L726.6 1027.0L729.0 1027.0L731.4 1027.0L733.8 1027.0L736.2 1027.0L738.6 1027.0L741.0 1027.0L743.4 1027.0L745.8 1027.0L748.2 1027.0L750.6 1027.0L753.0 1027.0L755.4 1027.0L757.8 1027.0L760.2 1027.0L762.6 1027.0L765.0 1027.0L767.4 1027.0L769.8 1027.0L772.2 1027.0L774.6 1027.0L777.0 1027.0L779.4 1026.9L781.8 1026.9L784.2 1026.9L786.6 1026.9L789.0 1026.8L791.4 1026.8L793.8 1026.7L796.2 1026.7L798.6 1026.6L801.0 1026.5L803.4 1026.5L805.8 1026.4L808.2 1026.3L810.6 1026.2L813.0 1026.1L815.4 1026.1L817.8 1026.0L820.2 1025.9L822.6 1025.8L825.0 1025.7L827.4 1025.6L829.8 1025.5L832.2 1025.3L834.6 1025.1L837.0 1024.9L839.4 1024.7L841.8 1024.4L844.2 1024.1L846.6 1023.8L849.0 1023.5L851.4 1023.1L853.8 1022.8L856.2 1022.4L858.6 1022.1L861.0 1021.7L863.4 1021.3L865.8 1020.9L868.2 1020.5L870.6 1020.0L873.0 1019.6L875.4 1019.1L877.8 1018.5L880.2 1018.0L882.6 1017.3L885.0 1016.4L887.4 1015.5L889.8 1014.5L892.2 1013.6L894.6 1012.8L897.0 1012.2L899.4 1011.8L901.8 1011.5L904.2 1011.3L906.6 1011.0L909.0 1010.7L911.4 1010.1L913.8 1008.9L916.2 1007.4L918.6 1005.8L921.0 1004.4L923.4 1003.5L925.8 1002.9L928.2 1002.4L930.6 1001.9L933.0 1001.1L935.4 1000.0L937.8 996.2L940.2 992.9L942.6 992.3L945.0 992.0L947.4 991.6L949.8 991.1L952.2 989.0L954.6 986.0L957.0 984.8L959.4 984.4L961.8 984.2L964.2 983.8L966.6 981.9L969.0 978.2L971.4 977.6L973.8 977.6L976.2 976.6L978.6 971.9L981.0 969.4L983.4 968.3L985.8 968.1L988.2 968.5L990.6 968.2L993.0 966.6L995.4 964.2L997.8 961.6L1000.2 959.4L1002.6 957.8L1005.0 956.0L1007.4 952.6L1009.8 946.6L1012.2 941.4L1014.6 938.2L1017.0 935.4L1019.4 931.7L1021.8 927.4L1024.2 923.4L1026.6 920.0L1029.0 917.1L1031.4 914.6L1033.8 912.4L1036.2 910.9L1038.6 909.9L1041.0 909.3L1043.4 910.0L1045.8 911.9L1048.2 911.4L1050.6 907.2L1053.0 905.4L1055.4 904.7L1057.8 904.2L1060.2 904.0L1062.6 904.3L1065.0 905.6L1067.4 907.3L1069.8 910.4L1072.2 914.4L1074.6 917.7L1077.0 919.9L1079.4 921.7L1081.8 923.4L1084.2 925.0L1086.6 926.7L1089.0 928.8L1091.4 931.2L1093.8 933.6L1096.2 935.6L1098.6 936.8L1101.0 936.8L1103.4 935.2L1105.8 934.0L1108.2 934.0L1110.6 934.0L1113.0 934.0L1115.4 934.3L1117.8 935.5L1120.2 937.4L1122.6 939.5L1125.0 941.6L1127.4 943.4L1129.8 944.6L1132.2 945.6L1134.6 946.5L1137.0 947.5L1139.4 948.5L1141.8 949.7L1144.2 951.3L1146.6 953.0L1149.0 954.6L1151.4 956.1L1153.8 957.1L1156.2 958.0L1158.6 958.8L1161.0 959.5L1163.4 960.2L1165.8 960.8L1168.2 961.4L1170.6 962.1L1173.0 963.1L1175.4 964.6L1177.8 966.5L1180.2 968.4L1182.6 970.1L1185.0 971.7L1187.4 973.1L1189.8 974.5L1192.2 975.9L1194.6 977.1L1197.0 978.3L1199.4 979.5L1201.8 980.6L1204.2 981.5L1206.6 982.1L1209.0 982.7L1211.4 983.3L1213.8 983.6L1216.2 983.6L1218.6 983.3L1221.0 982.9L1223.4 982.4L1225.8 982.1L1228.2 981.9L1230.6 981.8L1233.0 981.7L1235.4 981.6L1237.8 981.6L1240.2 981.5L1242.6 981.5L1245.0 981.6L1247.4 982.5L1249.8 983.7L1252.2 984.7L1254.6 985.0L1257.0 984.9L1259.4 984.9L1261.8 984.7L1264.2 984.6L1266.6 984.5L1269.0 984.5L1271.4 985.3L1273.8 987.3L1276.2 989.4L1278.6 990.8L1281.0 991.0L1283.4 991.0L1285.8 991.0L1288.2 990.9L1290.6 990.9L1293.0 990.8L1295.4 990.8L1297.8 990.7L1300.2 990.6L1302.6 990.4L1305.0 989.0L1307.4 986.5L1309.8 983.8L1312.2 981.7L1314.6 981.0L1317.0 980.8L1319.4 980.7L1321.8 980.6L1324.2 980.6L1326.6 980.9L1329.0 981.3L1331.4 981.8L1333.8 982.5L1336.2 983.1L1338.6 983.8L1341.0 984.3L1343.4 984.7L1345.8 985.0L1348.2 985.0L1350.6 984.8L1353.0 984.5L1355.4 984.2L1357.8 983.9L1360.2 983.7L1362.6 983.6L1365.0 983.6L1367.4 983.6L1369.8 983.6L1372.2 983.6L1374.6 983.6L1377.0 983.5L1379.4 983.2L1381.8 982.9L1384.2 982.5L1386.6 982.2L1389.0 982.0L1391.4 981.9L1393.8 981.8L1396.2 981.7L1398.6 981.6L1401.0 981.6L1403.4 981.5L1405.8 981.5L1408.2 981.4L1410.6 981.4L1413.0 981.3L1415.4 981.2L1417.8 981.1L1420.2 980.9L1422.6 980.6L1425.0 980.2L1427.4 979.7L1429.8 979.1L1432.2 978.5L1434.6 977.8L1437.0 977.1L1439.4 976.3L1441.8 975.4L1444.2 974.5L1446.6 973.6L1449.0 972.7L1451.4 971.8L1453.8 971.0L1456.2 970.2L1458.6 969.4L1461.0 968.7L1463.4 968.0L1465.8 967.3L1468.2 966.7L1470.6 966.0L1473.0 965.3L1475.4 965.0L1477.8 965.3L1480.2 966.0L1482.6 966.3L1485.0 964.9L1487.4 962.1L1489.8 959.0L1492.2 956.4L1494.6 953.9L1497.0 951.5L1499.4 949.1L1501.8 946.8L1504.2 945.0L1506.6 943.3L1509.0 941.3L1511.4 938.5L1513.8 933.2L1516.2 925.9L1518.6 920.4L1521.0 916.4L1523.4 912.9L1525.8 909.4L1528.2 905.4L1530.6 901.0L1533.0 897.4L1535.4 895.5L1537.8 894.4L1540.2 893.1L1542.6 890.8L1545.0 887.6L1547.4 883.9L1549.8 879.7L1552.2 874.7L1554.6 869.2L1557.0 863.8L1559.4 858.5L1561.8 853.2L1564.2 848.1L1566.6 842.8L1569.0 837.2L1571.4 833.6L1573.8 833.8L1576.2 836.3L1578.6 839.7L1581.0 842.2L1583.4 842.7L1585.8 842.1L1588.2 841.1L1590.6 840.0L1593.0 839.1L1595.4 838.8L1597.8 839.3L1600.2 840.2L1602.6 841.2L1605.0 841.9L1607.4 841.6L1609.8 836.5L1612.2 830.0L1614.6 826.6L1617.0 825.2L1619.4 824.4L1621.8 824.4L1624.2 825.3L1626.6 826.7L1629.0 828.1L1631.4 829.1L1633.8 829.4L1636.2 829.2L1638.6 828.7L1641.0 828.1L1643.4 827.3L1645.8 826.3L1648.2 824.2L1650.6 821.4L1653.0 818.5L1655.4 815.4L1657.8 811.8L1660.2 808.2L1662.6 805.1L1665.0 802.8L1667.4 800.9L1669.8 799.2L1672.2 797.7L1674.6 796.2L1677.0 794.8L1679.4 793.3L1681.8 791.8L1684.2 790.5L1686.6 789.4L1689.0 788.8L1691.4 788.4L1693.8 788.2L1696.2 788.0L1698.6 787.7L1701.0 787.2L1703.4 786.4L1705.8 785.4L1708.2 784.2L1710.6 782.9L1713.0 781.6L1715.4 779.9L1717.8 777.8L1720.2 774.9L1722.6 769.8L1725.0 763.4L1727.4 757.5L1729.8 751.6L1732.2 746.7L1734.6 743.3L1737.0 740.7L1739.4 738.1L1741.8 734.9L1744.2 730.7L1746.6 725.6L1749.0 720.0L1751.4 714.3L1753.8 706.8L1756.2 702.7L1758.6 706.5L1761.0 711.9L1763.4 715.9L1765.8 718.4L1768.2 717.4L1770.6 714.2L1773.0 709.8L1775.4 704.9L1777.8 698.3L1780.2 689.8L1782.6 679.5L1785.0 666.2L1787.4 651.1L1789.8 633.5L1792.2 613.2L1794.6 589.0L1797.0 562.5L1799.4 533.6L1801.8 502.9L1804.2 472.5L1806.6 452.7L1809.0 441.7L1811.4 441.4L1813.8 443.3L1816.2 444.9L1818.6 445.7L1821.0 447.1L1823.4 452.4L1825.8 458.8L1828.2 464.5L1830.6 469.8L1833.0 474.3L1835.4 478.4L1837.8 481.1L1840.2 481.8L1842.6 482.1L1845.0 479.8L1847.4 474.0L1849.8 474.7L1852.2 477.1L1854.6 480.0L1857.0 485.1L1859.4 495.8L1861.8 509.0L1864.2 525.5L1866.6 540.8L1869.0 554.7L1871.4 566.7L1873.8 578.4L1876.2 590.6L1878.6 602.3L1881.0 613.5L1883.4 624.3L1885.8 634.8L1888.2 644.7L1890.6 654.2L1893.0 663.2L1895.4 671.9L1897.8 680.4L1900.2 688.5L1902.6 696.2L1905.0 703.8L1907.4 711.7L1909.8 720.0L1912.2 728.7L1914.6 737.7L1917.0 747.2L1919.4 756.9L1921.8 765.8L1924.2 774.2L1926.6 782.1L1929.0 789.4L1931.4 796.1L1933.8 802.4L1936.2 808.4L1938.6 814.1L1941.0 819.6L1943.4 825.0L1945.8 830.3L1948.2 835.2L1950.6 840.1L1953.0 845.4L1955.4 851.5L1957.8 858.3L1960.2 865.0L1962.6 871.7L1965.0 878.1L1967.4 883.7L1969.8 888.8L1972.2 892.3L1974.6 894.7L1977.0 896.6L1979.4 898.4L1981.8 900.5L1984.2 902.9L1986.6 905.1L1989.0 906.6L1991.4 907.4L1993.8 908.0L1996.2 908.4L1998.6 909.1L2001.0 910.0L2003.4 911.5L2005.8 913.1L2008.2 914.8L2010.6 916.3L2013.0 917.6L2015.4 918.9L2017.8 920.5L2020.2 922.5L2022.6 925.6L2025.0 929.2L2027.4 932.3L2029.8 935.0L2032.2 937.0L2034.6 938.0L2037.0 938.6L2039.4 939.0L2041.8 939.4L2044.2 939.9L2046.6 940.8L2049.0 941.8L2051.4 942.2L2053.8 940.1L2056.2 936.9L2058.6 935.5L2061.0 934.9L2063.4 934.6L2065.8 938.2L2068.2 945.2L2070.6 944.0L2073.0 938.4L2075.4 936.5L2077.8 935.8L2080.2 935.3L2082.6 934.7L2085.0 933.8L2087.4 932.8L2089.8 931.7L2092.2 930.6L2094.6 929.3L2097.0 928.3L2099.4 926.8L2101.8 922.1L2104.2 915.7L2106.6 921.6L2109.0 928.0L2111.4 928.2L2113.8 927.9L2116.2 927.5L2118.6 926.9L2121.0 925.8L2123.4 923.9L2125.8 921.9L2128.2 920.0L2130.6 918.1L2133.0 916.1L2135.4 914.3L2137.8 912.9L2140.2 912.0L2142.6 911.2L2145.0 910.4L2147.4 909.4L2149.8 907.7L2152.2 905.4L2154.6 902.7L2157.0 899.9L2159.4 897.2L2161.8 894.3L2164.2 891.2L2166.6 888.0L2169.0 884.7L2171.4 881.3L2173.8 877.7L2176.2 874.0L2178.6 870.3L2181.0 866.5L2183.4 862.6L2185.8 858.2L2188.2 852.9L2190.6 846.9L2193.0 841.2L2195.4 836.2L2197.8 831.5L2200.2 826.8L2202.6 821.7L2205.0 816.3L2207.4 811.8L2209.8 809.0L2212.2 807.2L2214.6 805.4L2217.0 803.0L2219.4 799.7L2221.8 795.8L2224.2 791.5L2226.6 786.3L2229.0 780.4L2231.4 774.4L2233.8 767.2L2236.2 760.5L2238.6 757.5L2241.0 756.4L2243.4 755.0L2245.8 751.2L2248.2 743.6L2250.6 734.2L2253.0 724.9L2255.4 714.7L2257.8 705.4L2260.2 698.4L2262.6 692.3L2265.0 686.2L2267.4 679.9L2269.8 673.5L2272.2 665.8L2274.6 654.7L2277.0 651.3L2279.4 650.3L2281.8 648.7L2284.2 639.6L2286.6 630.0L2289.0 629.2L2291.4 628.9L2293.8 627.7L2296.2 619.5L2298.6 613.1L2301.0 607.9L2303.4 603.0L2305.8 597.7L2308.2 591.2L2310.6 585.3L2313.0 581.8L2315.4 581.0L2317.8 580.5L2320.2 580.2L2322.6 585.9L2325.0 601.7L2327.4 587.3L2329.8 570.2L2332.2 571.7L2334.6 573.6L2337.0 573.6L2339.4 571.5L2341.8 568.0L2344.2 558.8L2346.6 548.8L2349.0 539.2L2351.4 537.6L2353.8 540.8L2356.2 543.0L2358.6 543.3L2361.0 546.7L2363.4 585.1L2365.8 586.5L2368.2 573.7L2370.6 564.4L2373.0 557.0L2375.4 551.4L2377.8 548.3L2380.2 546.3L2382.6 544.0L2385.0 539.8L2387.4 528.3L2389.8 511.5L2392.2 485.1L2394.6 461.6L2397.0 445.1L2399.4 440.7L2401.8 438.5L2404.2 439.8L2406.6 446.1L2409.0 453.3L2411.4 460.9L2413.8 469.0L2416.2 476.2L2418.6 482.5L2421.0 489.6L2423.4 500.3L2425.8 511.5L2428.2 517.6L2430.6 521.9L2433.0 526.3L2435.4 532.4L2437.8 540.0L2440.2 548.3L2442.6 557.1L2445.0 566.6L2447.4 575.8L2449.8 583.8L2452.2 590.9L2454.6 598.0L2457.0 605.7L2459.4 613.8L2461.8 622.6L2464.2 632.3L2466.6 642.0L2469.0 651.6L2471.4 661.1L2473.8 670.5L2476.2 679.3L2478.6 687.0L2481.0 694.5L2483.4 702.7L2485.8 711.3L2488.2 720.0L2490.6 728.9L2493.0 737.8L2495.4 746.9L2497.8 755.6L2500.2 763.7L2502.6 771.2L2505.0 778.0L2507.4 784.1L2509.8 789.8L2512.2 795.2L2514.6 800.3L2517.0 805.0L2519.4 809.7L2521.8 814.4L2524.2 819.3L2526.6 824.2L2529.0 829.0L2531.4 833.8L2533.8 838.6L2536.2 843.4L2538.6 848.1L2541.0 852.3L2543.4 855.9L2545.8 859.0L2548.2 861.9L2550.6 864.9L2553.0 868.1L2555.4 871.3L2557.8 874.4L2560.2 877.5L2562.6 880.6L2565.0 883.5L2567.4 886.3L2569.8 889.2L2572.2 891.7L2574.6 893.9L2577.0 895.8L2579.4 897.4L2581.8 898.8L2581.8 898.8" stroke="#1380a1" stroke-width="10.8" fill="none" stroke-linejoin="round" stroke-linecap="round"/>
<path d="M284.0 1863.3L314.0 1863.0L335.0 1858.0L356.0 1855.6L374.0 1858.0L386.0 1857.0L401.0 1858.6L416.0 1855.0L440.0 1852.6L466.6 1851.0L481.6 1845.0L490.5 1842.0L505.5 1828.6L513.0 1826.0L523.5 1818.0L532.5 1808.0L540.0 1804.0L550.0 1805.6L559.0 1805.0L565.0 1809.0L573.0 1810.7L579.0 1803.0L591.0 1796.0L601.0 1801.7L613.0 1813.7L625.0 1821.0L636.0 1813.7L646.0 1812.0L657.0 1814.6L667.0 1825.6L685.0 1837.6L703.0 1843.0L721.0 1846.6L739.0 1852.0L754.0 1856.0L763.0 1855.0L781.0 1861.0L799.0 1860.0L811.0 1860.0L817.0 1853.0L829.0 1853.0L844.0 1849.0L851.0 1857.0L862.0 1856.0L874.0 1861.6L880.0 1861.0L901.0 1859.5L910.0 1861.6L940.0 1862.0L970.0 1861.0L994.0 1858.0L1024.0 1855.6L1041.7 1851.0L1059.6 1848.0L1074.6 1846.6L1085.0 1845.0L1091.0 1840.0L1098.6 1837.0L1104.6 1830.0L1112.0 1828.0L1118.0 1825.0L1125.5 1828.6L1134.5 1827.0L1143.5 1829.0L1148.0 1829.0L1152.5 1831.6L1158.4 1825.0L1164.4 1823.0L1179.4 1824.0L1187.0 1822.0L1197.4 1830.0L1209.3 1828.0L1221.3 1831.6L1230.3 1830.0L1240.8 1836.0L1251.3 1834.0L1261.7 1839.0L1269.0 1838.0L1279.7 1845.0L1293.0 1846.6L1302.0 1845.0L1311.0 1843.6L1317.0 1848.0L1323.0 1845.0L1330.6 1844.0L1338.0 1848.0L1353.0 1849.6L1365.0 1852.0L1374.0 1853.0L1383.0 1849.6L1392.0 1846.6L1404.0 1846.0L1413.0 1847.0L1419.0 1845.0L1428.0 1847.0L1443.0 1845.0L1452.0 1843.6L1461.0 1839.0L1471.0 1837.0L1479.0 1836.7L1488.0 1842.0L1495.0 1846.0L1515.0 1845.0L1524.0 1841.5L1539.0 1843.7L1552.0 1837.0L1567.6 1835.8L1578.5 1836.0L1587.0 1832.0L1594.7 1821.0L1604.0 1816.0L1611.0 1805.6L1621.0 1791.0L1631.0 1786.0L1641.0 1771.4L1648.6 1767.0L1654.0 1769.0L1659.5 1765.0L1669.0 1771.4L1679.0 1762.7L1685.8 1761.3L1690.0 1755.0L1695.4 1754.0L1703.0 1739.5L1712.0 1740.8L1717.7 1733.3L1724.3 1738.6L1734.0 1735.0L1745.0 1732.0L1751.5 1738.6L1756.3 1731.0L1761.1 1647.0L1764.5 1650.0L1769.0 1642.0L1775.5 1645.8L1782.0 1629.0L1790.0 1617.3L1794.4 1688.0L1799.6 1677.3L1806.0 1683.8L1813.6 1688.0L1819.3 1675.0L1830.0 1675.0L1839.0 1673.0L1847.8 1653.0L1852.0 1653.0L1861.0 1633.5L1867.5 1619.5L1876.0 1611.6L1887.0 1610.7L1891.6 1603.7L1896.0 1607.0L1911.0 1597.6L1920.0 1583.0L1926.6 1584.5L1934.5 1580.0L1940.6 1585.3L1948.5 1594.0L1953.7 1592.0L1959.4 1605.0L1966.0 1624.7L1972.5 1637.0L1981.3 1644.5L1988.0 1659.8L1996.6 1659.0L2003.0 1653.0L2007.6 1650.0L2012.0 1655.4L2017.6 1674.0L2025.0 1679.5L2031.0 1675.0L2037.5 1690.4L2046.0 1698.3L2052.8 1693.5L2061.6 1699.0L2070.0 1724.0L2074.7 1712.0L2085.7 1719.0L2095.0 1730.7L2100.0 1729.0L2104.0 1711.4L2109.8 1726.3L2118.5 1730.0L2127.0 1740.8L2137.0 1765.7L2149.0 1768.4L2160.0 1778.0L2166.7 1779.0L2175.4 1770.5L2182.0 1774.5L2186.4 1780.0L2190.8 1770.5L2199.5 1778.0L2209.0 1796.4L2219.0 1806.4L2225.8 1809.5L2234.5 1807.8L2239.0 1801.0L2252.0 1794.6L2263.0 1782.4L2271.8 1765.0L2281.8 1765.7L2288.0 1756.0L2300.0 1748.6L2306.8 1740.8L2312.5 1729.0L2322.0 1720.0L2326.5 1734.0L2331.0 1705.7L2336.0 1713.0L2344.0 1699.0L2350.6 1690.4L2356.0 1692.6L2360.6 1677.3L2365.0 1697.0L2369.4 1652.0L2376.8 1650.0L2383.4 1640.0L2390.0 1609.4L2398.7 1580.0L2403.0 1607.0L2412.7 1610.7L2417.5 1589.7L2422.0 1550.0L2429.4 1551.0L2435.0 1538.0L2441.0 1540.7L2447.0 1535.0L2451.0 1548.0L2456.5 1593.0L2464.4 1580.0L2470.0 1586.6L2475.3 1584.0L2484.0 1591.0L2497.0 1596.3L2505.0 1602.0L2509.5 1611.6L2523.5 1615.0L2528.8 1622.6L2534.4 1640.0L2538.8 1648.0L2545.4 1654.5L2553.3 1666.3L2559.4 1680.8L2567.3 1694.8L2573.8 1707.0L2578.0 1715.4L2583.5 1720.0" stroke="#9a1200" stroke-width="10.8" fill="none" stroke-linejoin="round" stroke-linecap="round"/>
<rect x="282" y="1864" width="2302" height="7.8" fill="#222"/>
<text font-family="DejaVu Serif, Liberation Serif, serif" font-weight="400" font-size="108.4" fill="#222" stroke="#222" stroke-width="4" stroke-linejoin="round">
<tspan x="21.47" y="148.8" textLength="303.51" lengthAdjust="spacingAndGlyphs">Daily</tspan>
<tspan x="357.49" y="148.8" textLength="486.51" lengthAdjust="spacingAndGlyphs">reported</tspan>
<tspan x="875.94" y="148.8" textLength="303.13" lengthAdjust="spacingAndGlyphs">cases</tspan>
<tspan x="1210.43" y="148.8" textLength="211.08" lengthAdjust="spacingAndGlyphs">and</tspan>
<tspan x="1453.95" y="148.8" textLength="377.10" lengthAdjust="spacingAndGlyphs">deaths</tspan>
<tspan x="1864.45" y="148.8" textLength="109.58" lengthAdjust="spacingAndGlyphs">in</tspan>
<tspan x="2003.95" y="148.8" textLength="347.06" lengthAdjust="spacingAndGlyphs">Japan</tspan>
</text>
<text font-family="Liberation Sans, Arial, sans-serif" font-weight="400" font-size="67.5" fill="#000">
<tspan x="28.36" y="2140" textLength="232.90" lengthAdjust="spacingAndGlyphs">Source:</tspan>
<tspan x="275.47" y="2140" textLength="181.56" lengthAdjust="spacingAndGlyphs">Johns</tspan>
<tspan x="474.33" y="2140" textLength="252.72" lengthAdjust="spacingAndGlyphs">Hopkins</tspan>
<tspan x="743.92" y="2140" textLength="313.08" lengthAdjust="spacingAndGlyphs">University</tspan>
</text>
<text x="286.43" y="297" font-family="Liberation Sans, Arial, sans-serif" font-weight="700" font-size="87" fill="#222" textLength="227.66" lengthAdjust="spacingAndGlyphs" >Cases</text>
<text x="286.85" y="1134" font-family="Liberation Sans, Arial, sans-serif" font-weight="700" font-size="87" fill="#222" textLength="278.24" lengthAdjust="spacingAndGlyphs" >Deaths</text>
<text x="18.86" y="511.8" font-family="Liberation Sans, Arial, sans-serif" font-weight="400" font-size="85.5" fill="#6e6e73" textLength="220.76" lengthAdjust="spacingAndGlyphs" >6,000</text>
<text x="20.95" y="694.9" font-family="Liberation Sans, Arial, sans-serif" font-weight="400" font-size="85.5" fill="#6e6e73" textLength="218.64" lengthAdjust="spacingAndGlyphs" >4,000</text>
<text x="18.86" y="878.0" font-family="Liberation Sans, Arial, sans-serif" font-weight="400" font-size="85.5" fill="#6e6e73" textLength="220.76" lengthAdjust="spacingAndGlyphs" >2,000</text>
<text x="189.53" y="1061.1" font-family="Liberation Sans, Arial, sans-serif" font-weight="400" font-size="85.5" fill="#6e6e73" textLength="50.38" lengthAdjust="spacingAndGlyphs" >0</text>
<text x="89.77" y="1313.3" font-family="Liberation Sans, Arial, sans-serif" font-weight="400" font-size="85.5" fill="#6e6e73" textLength="150.90" lengthAdjust="spacingAndGlyphs" >200</text>
<text x="90.55" y="1458.8" font-family="Liberation Sans, Arial, sans-serif" font-weight="400" font-size="85.5" fill="#6e6e73" textLength="150.17" lengthAdjust="spacingAndGlyphs" >150</text>
<text x="90.55" y="1604.3" font-family="Liberation Sans, Arial, sans-serif" font-weight="400" font-size="85.5" fill="#6e6e73" textLength="150.17" lengthAdjust="spacingAndGlyphs" >100</text>
<text x="140.21" y="1749.85" font-family="Liberation Sans, Arial, sans-serif" font-weight="400" font-size="85.5" fill="#6e6e73" textLength="99.50" lengthAdjust="spacingAndGlyphs" >50</text>
<text x="189.96" y="1895.35" font-family="Liberation Sans, Arial, sans-serif" font-weight="400" font-size="85.5" fill="#6e6e73" textLength="49.97" lengthAdjust="spacingAndGlyphs" >0</text>
<text x="362.50" y="2004.2" font-family="Liberation Sans, Arial, sans-serif" font-weight="400" font-size="87" fill="#6e6e73" textLength="142.02" lengthAdjust="spacingAndGlyphs" >Apr</text>
<text x="657.92" y="2004.2" font-family="Liberation Sans, Arial, sans-serif" font-weight="400" font-size="87" fill="#6e6e73" textLength="138.87" lengthAdjust="spacingAndGlyphs" >Jun</text>
<text x="943.47" y="2004.2" font-family="Liberation Sans, Arial, sans-serif" font-weight="400" font-size="87" fill="#6e6e73" textLength="157.77" lengthAdjust="spacingAndGlyphs" >Aug</text>
<text x="1245.86" y="2004.2" font-family="Liberation Sans, Arial, sans-serif" font-weight="400" font-size="87" fill="#6e6e73" textLength="140.16" lengthAdjust="spacingAndGlyphs" >Oct</text>
<text x="1535.58" y="2004.2" font-family="Liberation Sans, Arial, sans-serif" font-weight="400" font-size="87" fill="#6e6e73" textLength="149.55" lengthAdjust="spacingAndGlyphs" >Dec</text>
<text x="1839.02" y="2004.2" font-family="Liberation Sans, Arial, sans-serif" font-weight="400" font-size="87" fill="#6e6e73" textLength="142.20" lengthAdjust="spacingAndGlyphs" >Feb</text>
<text x="2124.50" y="2004.2" font-family="Liberation Sans, Arial, sans-serif" font-weight="400" font-size="87" fill="#6e6e73" textLength="142.02" lengthAdjust="spacingAndGlyphs" >Apr</text>
<text x="2419.92" y="2004.2" font-family="Liberation Sans, Arial, sans-serif" font-weight="400" font-size="87" fill="#6e6e73" textLength="139.34" lengthAdjust="spacingAndGlyphs" >Jun</text>
<text x="305.49" y="565.8" font-family="Liberation Sans, Arial, sans-serif" font-weight="700" font-size="61.8" fill="#1380a1" textLength="294.01" lengthAdjust="spacingAndGlyphs" >Seven-day</text>
<text x="340.97" y="622.8" font-family="Liberation Sans, Arial, sans-serif" font-weight="700" font-size="61.8" fill="#1380a1" textLength="224.57" lengthAdjust="spacingAndGlyphs" >average</text>
<text x="305.49" y="1349" font-family="Liberation Sans, Arial, sans-serif" font-weight="700" font-size="61.8" fill="#9a1200" textLength="294.01" lengthAdjust="spacingAndGlyphs" >Seven-day</text>
<text x="340.97" y="1405.8" font-family="Liberation Sans, Arial, sans-serif" font-weight="700" font-size="61.8" fill="#9a1200" textLength="224.57" lengthAdjust="spacingAndGlyphs" >average</text>
<rect x="0" y="2065.5" width="2666" height="3" fill="#000"/>
<rect x="2395.3" y="2084.6" width="76.4" height="72" fill="#222"/>
<text x="2410.70" y="2146.80" font-family="Liberation Sans, Arial, sans-serif" font-weight="700" font-size="76" fill="#fff" textLength="46.30" lengthAdjust="spacingAndGlyphs">B</text>
<rect x="2483.7" y="2084.6" width="76.4" height="72" fill="#222"/>
<text x="2498.80" y="2146.80" font-family="Liberation Sans, Arial, sans-serif" font-weight="700" font-size="76" fill="#fff" textLength="46.30" lengthAdjust="spacingAndGlyphs">B</text>
<rect x="2571.9" y="2084.6" width="76.4" height="72" fill="#222"/>
<text x="2580.20" y="2146.80" font-family="Liberation Sans, Arial, sans-serif" font-weight="700" font-size="76" fill="#fff" textLength="55.20" lengthAdjust="spacingAndGlyphs">C</text>
</svg>
</body></html>
